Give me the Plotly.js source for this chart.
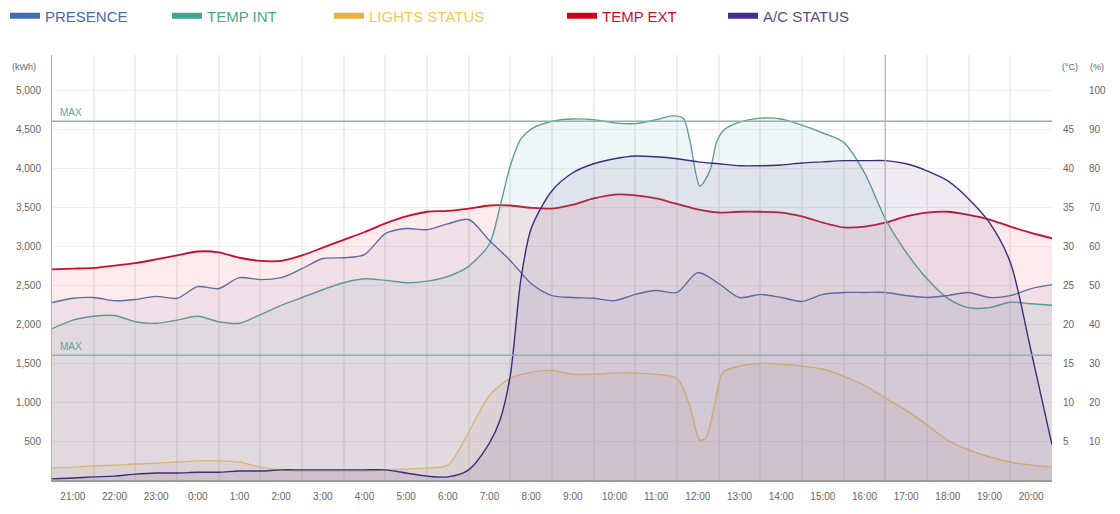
<!DOCTYPE html>
<html>
<head>
<meta charset="utf-8">
<script src="https://cdn.plot.ly/plotly-3.0.1.min.js"></script>
<style>
  html, body { margin: 0; padding: 0; background: #ffffff; }
  #chart { width: 1120px; height: 514px; }
</style>
</head>
<body>
<div id="chart"></div>
<script>
// ---- Data (x = hours since 21:00) ----
const timeLabels = ["21:00","22:00","23:00","0:00","1:00","2:00","3:00","4:00","5:00","6:00","7:00","8:00","9:00","10:00","11:00","12:00","13:00","14:00","15:00","16:00","17:00","18:00","19:00","20:00"];
const hourTicks = [0,1,2,3,4,5,6,7,8,9,10,11,12,13,14,15,16,17,18,19,20,21,22,23];
const gridHours = [0.5,1.5,2.5,3.5,4.5,5.5,6.5,7.5,8.5,9.5,10.5,11.5,12.5,13.5,14.5,15.5,16.5,17.5,18.5,19.5,20.5,21.5,22.5];

const tHalf = [-0.5,0,0.5,1,1.5,2,2.5,3,3.5,4,4.5,5,5.5,6,6.5,7,7.5,8,8.5,9,9.5,10,10.5,11,11.5,12,12.5,13,13.5,14,14.5,15,15.5,16,16.5,17,17.5,18,18.5,19,19.5,20,20.5,21,21.5,22,22.5,23,23.5];

// PRESENCE (%)
const presence = [45.5,46.6,46.8,46.0,46.3,47.1,46.6,49.6,49.1,51.9,51.4,51.9,54.2,56.8,57.0,57.8,63.2,64.5,64.2,65.7,66.8,61.4,56.3,50.4,47.3,46.8,46.6,46.0,47.6,48.6,48.1,53.2,50.4,46.8,47.6,46.8,45.8,47.6,48.1,48.1,48.1,47.3,46.8,47.3,48.1,46.8,47.3,49.1,50.1];

// TEMP INT (°C)
const tTempInt = [-0.5,0,0.5,1,1.5,2,2.5,3,3.5,4,4.5,5,5.5,6,6.5,7,7.5,8,8.5,9,9.5,10,10.25,10.5,10.75,11,11.5,12,12.5,13,13.5,14,14.4,14.65,14.81,15.05,15.29,15.46,15.65,16,16.5,17,17.5,18,18.5,19,19.5,20,20.5,21,21.5,22,22.5,23,23.5];
const tempInt = [19.4,20.5,21.0,21.1,20.3,20.1,20.5,21.0,20.3,20.1,21.2,22.4,23.4,24.4,25.3,25.8,25.6,25.3,25.5,26.1,27.4,30.3,35.0,40.3,43.7,45.0,46.0,46.3,46.2,45.8,45.7,46.2,46.7,46.4,43.5,37.7,39.7,43.5,45.0,45.9,46.4,46.3,45.5,44.5,43.3,39.4,33.5,29.2,25.8,23.3,22.1,22.1,22.8,22.6,22.4];

// LIGHTS STATUS (%)
const tLights = [-0.5,0,0.5,1,1.5,2,2.5,3,3.5,4,4.5,5,5.5,6,6.5,7,7.5,8,8.5,9,9.5,10,10.5,11,11.5,12,12.5,13,13.5,14,14.5,14.8,15.05,15.2,15.4,15.6,16,16.5,17,17.5,18,18.5,19,19.5,20,20.5,21,21.5,22,22.5,23,23.5];
const lights = [3.1,3.3,3.6,3.8,4.1,4.3,4.6,4.9,4.9,4.6,3.3,2.6,2.3,2.3,2.3,2.3,2.6,2.8,3.1,3.8,12.3,21.7,26.1,27.6,28.1,27.1,27.1,27.4,27.4,27.1,26.1,19.2,10.2,11.0,19.2,27.6,29.2,29.9,29.7,29.2,28.4,26.6,24.3,21.0,17.9,14.1,10.2,7.7,5.9,4.6,3.8,3.3];

// TEMP EXT (°C)
const tempExt = [27.0,27.1,27.2,27.5,27.8,28.3,28.8,29.3,29.2,28.5,28.1,28.1,28.8,29.8,30.8,31.8,32.9,33.8,34.4,34.5,34.8,35.2,35.2,34.9,34.8,35.3,36.1,36.6,36.5,36.1,35.4,34.7,34.3,34.4,34.4,34.3,33.8,33.0,32.4,32.5,33.0,33.8,34.3,34.4,34.0,33.4,32.5,31.7,31.0];

// A/C STATUS (%)
const tAC = [-0.5,0,0.5,1,1.5,2,2.5,3,3.5,4,4.5,5,5.5,6,6.5,7,7.5,8,8.5,9,9.5,10,10.25,10.5,10.75,11,11.5,12,12.5,13,13.5,14,14.5,15,15.5,16,16.5,17,17.5,18,18.5,19,19.5,20,20.5,21,21.5,22,22.5,23,23.5];
const acStatus = [0.3,0.5,0.8,1.0,1.5,1.8,1.8,2.0,2.0,2.3,2.3,2.6,2.6,2.6,2.6,2.6,2.6,1.8,1.0,0.8,2.6,9.5,15.3,26.9,51.2,64.5,74.2,78.8,81.1,82.4,83.1,82.9,82.4,81.6,81.1,80.6,80.6,80.8,81.3,81.6,81.9,81.9,81.9,81.1,79.3,76.7,72.1,66.0,55.8,33.0,9.0];

// Thresholds (°C) and current time marker (hours since 21:00)
const maxLevels = [46, 16];
const nowMarker = 19.5;

// Axis ticks
const kwhTicks = [500,1000,1500,2000,2500,3000,3500,4000,4500,5000];
const kwhText = ["500","1,000","1,500","2,000","2,500","3,000","3,500","4,000","4,500","5,000"];
const degTicks = [5,10,15,20,25,30,35,40,45];
const pctTicks = [10,20,30,40,50,60,70,80,90,100];

// ---- Series styling ----
const series = [
  {name:"TEMP EXT", x:tHalf, y:tempExt, axis:"y2", line:"#c8102e", w:1.8, fill:"rgba(225,60,80,0.11)"},
  {name:"TEMP INT", x:tTempInt, y:tempInt, axis:"y2", line:"#5f9f99", w:1.4, fill:"rgba(90,170,175,0.10)"},
  {name:"PRESENCE", x:tHalf, y:presence, axis:"y3", line:"#5f6c9e", w:1.4, fill:"rgba(90,90,150,0.07)"},
  {name:"LIGHTS STATUS", x:tLights, y:lights, axis:"y3", line:"#d8b770", w:1.4, fill:"rgba(190,150,110,0.10)"},
  {name:"A/C STATUS", x:tAC, y:acStatus, axis:"y3", line:"#3b2f78", w:1.4, fill:"rgba(110,70,150,0.11)"}
];

const legendItems = [
  {name:"PRESENCE", swatch:"#3f6db5", text:"#4a6aa6", legend:"legend", lx:-0.047},
  {name:"TEMP INT", swatch:"#45a393", text:"#4aa394", legend:"legend2", lx:0.115},
  {name:"LIGHTS STATUS", swatch:"#e6b13d", text:"#f0c860", legend:"legend3", lx:0.277},
  {name:"TEMP EXT", swatch:"#d0021b", text:"#c8102e", legend:"legend4", lx:0.510},
  {name:"A/C STATUS", swatch:"#4b2a8f", text:"#5a4d80", legend:"legend5", lx:0.671}
];

const traces = series.map(s => ({
  type:"scatter", mode:"lines", name:s.name, x:s.x, y:s.y, yaxis:s.axis,
  line:{color:s.line, width:s.w, shape:"spline", smoothing:0.8},
  fill:"tozeroy", fillcolor:s.fill, showlegend:false, hoverinfo:"x+y"
}));

legendItems.forEach(l => traces.push({
  type:"scatter", mode:"lines", name:l.name, x:[null], y:[null],
  line:{color:l.swatch, width:6}, showlegend:true, legend:l.legend, hoverinfo:"skip"
}));

const layout = {
  width:1120, height:514,
  margin:{l:52, r:68, t:55, b:34, autoexpand:false},
  paper_bgcolor:"#ffffff", plot_bgcolor:"#ffffff",
  font:{family:"Liberation Sans, Arial, sans-serif", size:10, color:"#666"},
  xaxis:{
    range:[-0.5,23.5], tickmode:"array", tickvals:hourTicks, ticktext:timeLabels,
    showgrid:false, zeroline:false, showline:true, linecolor:"#9a9a9a", linewidth:2,
    ticks:"outside", ticklen:6, tickcolor:"rgba(0,0,0,0)",
    tickfont:{size:10, color:"#666"}, automargin:false,
    minor:{tickmode:"array", tickvals:gridHours, showgrid:true, gridcolor:"#efefef", gridwidth:2, ticks:""}
  },
  yaxis:{
    range:[0,5450], tickmode:"array", tickvals:kwhTicks, ticktext:kwhText,
    showgrid:true, gridcolor:"#efefef", gridwidth:1, zeroline:false,
    showline:true, linecolor:"#b0b0b0", linewidth:1, automargin:false,
    ticks:"outside", ticklen:8, tickcolor:"rgba(0,0,0,0)", tickfont:{size:10, color:"#666"}
  },
  yaxis2:{
    overlaying:"y", side:"right", range:[0,54.5], tickmode:"array", tickvals:degTicks,
    showgrid:false, zeroline:false, showline:false, automargin:false,
    ticks:"outside", ticklen:8, tickcolor:"rgba(0,0,0,0)", tickfont:{size:10, color:"#666"}
  },
  yaxis3:{
    overlaying:"y", side:"right", anchor:"free", position:1, range:[0,109], tickmode:"array", tickvals:pctTicks,
    showgrid:false, zeroline:false, showline:false, automargin:false,
    ticks:"outside", ticklen:34, tickcolor:"rgba(0,0,0,0)", tickfont:{size:10, color:"#666"}
  },
  shapes: maxLevels.map(v => ({
    type:"line", xref:"paper", x0:0, x1:1, yref:"y2", y0:v, y1:v,
    line:{color:"#8fb3ad", width:1.5}
  })).concat([{
    type:"line", xref:"x", x0:nowMarker, x1:nowMarker, yref:"paper", y0:0, y1:1,
    line:{color:"#b8b8b8", width:1.2}, layer:"above"
  }]),
  annotations: maxLevels.map(v => ({
    text:"MAX", xref:"paper", x:0.006, xanchor:"left", yref:"y2", y:v, yanchor:"bottom", yshift:1,
    showarrow:false, font:{size:10, color:"#5aa898"}
  })).concat([
    {text:"(kWh)", xref:"paper", x:-0.014, xanchor:"right", yref:"paper", y:0.972, yanchor:"middle", showarrow:false, font:{size:9, color:"#666"}},
    {text:"(°C)", xref:"paper", x:1.008, xanchor:"left", yref:"paper", y:0.972, yanchor:"middle", showarrow:false, font:{size:9, color:"#666"}},
    {text:"(%)", xref:"paper", x:1.036, xanchor:"left", yref:"paper", y:0.972, yanchor:"middle", showarrow:false, font:{size:9, color:"#666"}}
  ]),
  showlegend:true
};

legendItems.forEach(l => {
  layout[l.legend] = {
    orientation:"h", x:l.lx, xanchor:"left", y:1.092, yanchor:"middle",
    bgcolor:"rgba(0,0,0,0)", font:{family:"Liberation Sans, Arial, sans-serif", size:15, color:l.text},
    itemclick:false, itemdoubleclick:false
  };
});

Plotly.newPlot("chart", traces, layout, {displayModeBar:false, staticPlot:true});
</script>
</body>
</html>
